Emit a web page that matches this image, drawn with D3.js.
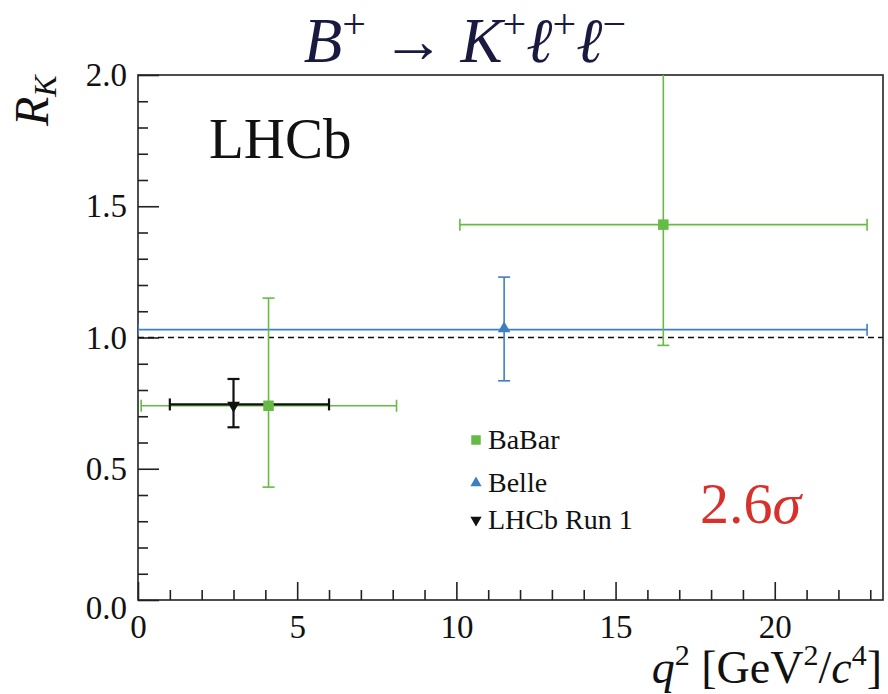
<!DOCTYPE html>
<html>
<head>
<meta charset="utf-8">
<script src="https://cdn.jsdelivr.net/npm/d3@7"></script>
<style>
  body { margin: 0; background: #fff; }
</style>
</head>
<body>
<svg id="chart" width="888" height="694"></svg>
<script>
// values
var babarX = [4.1, 16.5], babarXlo = [0.1, 10.11], babarXhi = [8.12, 22.9];
var babarY = [0.74, 1.43], babarYlo = [0.43, 0.97], babarYhi = [1.15, 2.08];

var belleX = [11.5], belleXlo = [0.0], belleXhi = [22.9];
var belleY = [1.03], belleYlo = [0.835], belleYhi = [1.23];

var lhcbX = [3.0], lhcbXlo = [1.0], lhcbXhi = [6.0];
var lhcbY = [0.745], lhcbYlo = [0.658], lhcbYhi = [0.842];

var yMajor = [0, 0.5, 1.0, 1.5, 2.0];
var xMajor = [0, 5, 10, 15, 20];
var legendNames = ["BaBar", "Belle", "LHCb Run 1"];

var green = "#66bb44", blue = "#3f7fc0", black = "#111";
var serif = '"Liberation Serif"';

var svg = d3.select("#chart");
var x = d3.scaleLinear().domain([0, 23.4]).range([138, 883]);
var y = d3.scaleLinear().domain([0, 2]).range([600, 75]);

// axes, ticks pointing inward
var yMinor = d3.range(0, 2.0001, 0.1).filter(v => Math.abs(v*2 - Math.round(v*2)) > 1e-6);
var xMinor = d3.range(0, 23.01, 1).filter(v => v % 5 != 0);

var gy = svg.append("g").attr("transform", "translate(138,0)");
gy.call(d3.axisLeft(y).tickValues(yMajor).tickSize(-21).tickPadding(11).tickFormat(d3.format(".1f")));
gy.append("g").call(d3.axisLeft(y).tickValues(yMinor).tickSize(-10).tickFormat(""));

var gx = svg.append("g").attr("transform", "translate(0,600)");
gx.call(d3.axisBottom(x).tickValues(xMajor).tickSize(-18).tickPadding(15).tickFormat(d3.format("d")));
gx.append("g").call(d3.axisBottom(x).tickValues(xMinor).tickSize(-10).tickFormat(""));

svg.selectAll(".domain").remove();
svg.selectAll(".tick line").attr("stroke", "#222").attr("stroke-width", 1.6);
svg.selectAll(".tick text").attr("font-size", 33).attr("fill", "#111").style("font-family", serif);
// "0.0" sits a little below its tick in the original
gy.selectAll(".tick text").filter(d => d == 0).attr("dy", "0.55em");

// frame
svg.append("rect").attr("x", 138).attr("y", 75).attr("width", 883 - 138).attr("height", 600 - 75)
  .attr("fill", "none").attr("stroke", "#222").attr("stroke-width", 1.6);

svg.append("clipPath").attr("id", "plotclip").append("rect")
  .attr("x", 138).attr("y", 75).attr("width", 745).attr("height", 525);
var plot = svg.append("g").attr("clip-path", "url(#plotclip)");

// reference line at 1
plot.append("line").attr("x1", x(0)).attr("x2", x(23.4)).attr("y1", y(1)).attr("y2", y(1))
  .attr("stroke", black).attr("stroke-width", 1.5).attr("stroke-dasharray", "6,4");

function errors(xs, xlo, xhi, ys, ylo, yhi, color, sw) {
  var cap = 6;
  var g = plot.append("g").attr("stroke", color).attr("stroke-width", sw).attr("fill", "none");
  xs.forEach(function(d, i) {
    g.append("line").attr("x1", x(xlo[i])).attr("x2", x(xhi[i])).attr("y1", y(ys[i])).attr("y2", y(ys[i]));
    g.append("line").attr("x1", x(d)).attr("x2", x(d)).attr("y1", y(ylo[i])).attr("y2", y(yhi[i]));
    [xlo[i], xhi[i]].forEach(v => g.append("line").attr("x1", x(v)).attr("x2", x(v))
      .attr("y1", y(ys[i]) - cap).attr("y2", y(ys[i]) + cap));
    [ylo[i], yhi[i]].forEach(v => g.append("line").attr("x1", x(d) - cap).attr("x2", x(d) + cap)
      .attr("y1", y(v)).attr("y2", y(v)));
  });
}

errors(belleX, belleXlo, belleXhi, belleY, belleYlo, belleYhi, blue, 1.6);
errors(babarX, babarXlo, babarXhi, babarY, babarYlo, babarYhi, green, 1.6);
errors(lhcbX, lhcbXlo, lhcbXhi, lhcbY, lhcbYlo, lhcbYhi, black, 2.2);

var sq = d3.symbol().type(d3.symbolSquare).size(110);
var tri = d3.symbol().type(d3.symbolTriangle).size(70);

plot.selectAll(".babar").data(babarX).enter().append("path")
  .attr("d", sq).attr("fill", green)
  .attr("transform", (d, i) => "translate(" + x(d) + "," + y(babarY[i]) + ")");
plot.selectAll(".belle").data(belleX).enter().append("path")
  .attr("d", tri).attr("fill", blue)
  .attr("transform", (d, i) => "translate(" + x(d) + "," + (y(belleY[i]) - 1) + ")");
plot.selectAll(".lhcb").data(lhcbX).enter().append("path")
  .attr("d", tri).attr("fill", black)
  .attr("transform", (d, i) => "translate(" + x(d) + "," + (y(lhcbY[i]) + 1) + ") rotate(180)");

// legend
var legY = [440, 483, 520];
var legColors = [green, blue, black];
var leg = svg.append("g");
legendNames.forEach(function(n, i) {
  var m = leg.append("path").attr("fill", legColors[i]);
  if (i == 0) m.attr("d", d3.symbol().type(d3.symbolSquare).size(90)).attr("transform", "translate(476," + legY[i] + ")");
  else m.attr("d", d3.symbol().type(d3.symbolTriangle).size(55))
    .attr("transform", "translate(476," + legY[i] + ")" + (i == 2 ? " rotate(180)" : ""));
  leg.append("text").attr("x", 488).attr("y", legY[i] + 9).attr("font-size", 28).attr("fill", "#111")
    .style("font-family", serif).text(n);
});

// annotations
svg.append("text").attr("x", 209).attr("y", 158).attr("font-size", 57).attr("fill", "#111")
  .style("font-family", serif).text("LHCb");
svg.append("text").attr("x", 700).attr("y", 523).attr("font-size", 58).attr("fill", "#d8302a")
  .style("font-family", serif).text("2.6")
  .append("tspan").attr("font-style", "italic").text("σ");

// title
var title = svg.append("text").attr("x", 465).attr("y", 62).attr("text-anchor", "middle")
  .attr("font-size", 63).attr("fill", "#1a1a40").style("font-family", serif);
title.append("tspan").attr("font-style", "italic").text("B");
title.append("tspan").attr("font-size", 42).attr("dy", -24).text("+");
title.append("tspan").attr("dy", 24).text(" → ");
title.append("tspan").attr("font-style", "italic").text("K");
title.append("tspan").attr("font-size", 42).attr("dy", -24).text("+");
title.append("tspan").attr("dy", 24).attr("font-style", "italic").text("ℓ");
title.append("tspan").attr("font-size", 42).attr("dy", -24).text("+");
title.append("tspan").attr("dy", 24).attr("font-style", "italic").text("ℓ");
title.append("tspan").attr("font-size", 42).attr("dy", -24).text("−");

// y axis title
var yt = svg.append("text").attr("transform", "translate(48,126) rotate(-90)")
  .attr("font-size", 48).attr("fill", "#111").style("font-family", serif);
yt.append("tspan").attr("font-style", "italic").text("R");
yt.append("tspan").attr("font-style", "italic").attr("font-size", 32).attr("dy", 8).text("K");

// x axis title
var xt = svg.append("text").attr("x", 882).attr("y", 683).attr("text-anchor", "end")
  .attr("font-size", 46).attr("fill", "#111").style("font-family", serif);
xt.append("tspan").attr("font-style", "italic").text("q");
xt.append("tspan").attr("font-size", 30).attr("dy", -18).text("2");
xt.append("tspan").attr("dy", 18).text(" [GeV");
xt.append("tspan").attr("font-size", 30).attr("dy", -18).text("2");
xt.append("tspan").attr("dy", 18).text("/");
xt.append("tspan").attr("font-style", "italic").text("c");
xt.append("tspan").attr("font-size", 30).attr("dy", -18).text("4");
xt.append("tspan").attr("dy", 18).text("]");
</script>
</body>
</html>
